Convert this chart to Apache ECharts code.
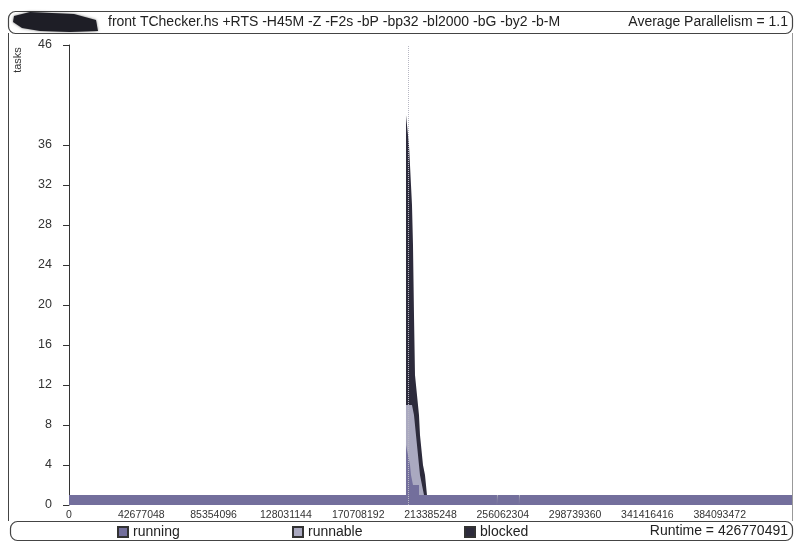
<!DOCTYPE html>
<html>
<head>
<meta charset="utf-8">
<title>TChecker activity profile</title>
<script src="https://cdn.jsdelivr.net/npm/echarts@6/dist/echarts.min.js"></script>
<style>
  html, body { margin: 0; padding: 0; background: #ffffff; }
  #chart { width: 795px; height: 543px; }
</style>
</head>
<body>
<div id="chart"></div>
<script>
// Activity profile: task counts per state, each sample holds until the next one
const sampleTimes = [
  0,
  198920000, 199510000, 200100000, 200690000, 201280000, 201870000,
  202460000, 203050000, 203640000, 204230000, 204820000, 205410000,
  206000000, 206590000, 207180000, 207770000, 208360000, 208950000,
  209540000, 210130000, 210720000, 211310000,
  252600000, 253100000, 265600000, 266100000,
  426770491
];
const runningTasks = [
  1,
  6, 6, 5, 5, 4, 3,
  3, 2, 2, 2, 2, 2,
  2, 1, 1, 1, 1, 1,
  1, 1, 1, 1,
  0, 1, 0, 1,
  1
];
const runnableTasks = [
  0,
  4, 4, 5, 5, 6, 7,
  7, 8, 7, 6, 5, 4,
  3, 3, 2, 2, 1, 1,
  0, 0, 0, 0,
  0, 0, 0, 0,
  0
];
const blockedTasks = [
  0,
  29, 28, 27, 26, 24, 22,
  20, 16, 10, 5, 5, 5,
  5, 5, 4, 3, 3, 2,
  3, 2, 1, 0,
  0, 0, 0, 0,
  0
];
const peakMarkTime = 200100000;

const runtime = 426770491;
const xTickValues = [0, 42677048, 85354096, 128031144, 170708192, 213385248,
  256062304, 298739360, 341416416, 384093472];
const yTickValues = [0, 4, 8, 12, 16, 20, 24, 28, 32, 36, 46];

const titleText = 'front TChecker.hs +RTS -H45M -Z -F2s -bP -bp32 -bl2000 -bG -by2 -b-M';
const avgText = 'Average Parallelism = 1.1';
const runtimeText = 'Runtime = ' + runtime;

const stateColors = { running: '#736f9c', runnable: '#aaa9c0', blocked: '#2d2b3c' };
const FONT = '"Liberation Sans", Arial, Helvetica, sans-serif';

// Cumulative heights: blocked sits on runnable, runnable sits on running.
const runTop = runningTasks.slice();
const runnableTop = runningTasks.map((v, i) => v + runnableTasks[i]);
const blockedTop = runnableTop.map((v, i) => v + blockedTasks[i]);

function pairs(values) {
  return sampleTimes.map((t, i) => [t, values[i]]);
}

// Each state is painted as a step area from zero up to its cumulative top;
// the lower states are drawn over it so only its own band remains visible.
function stateSeries(name, tops, z, extra) {
  return Object.assign({
    name: name,
    type: 'line',
    step: 'end',
    symbol: 'none',
    z: z,
    data: pairs(tops),
    lineStyle: { width: 0 },
    areaStyle: { color: stateColors[name], opacity: 1, origin: 'start' },
    itemStyle: { color: stateColors[name], borderColor: '#333', borderWidth: 1 },
    emphasis: { disabled: true }
  }, extra || {});
}

const legendCommon = {
  top: 525,
  padding: 0,
  icon: 'rect',
  itemWidth: 10,
  itemHeight: 10,
  selectedMode: false,
  textStyle: { fontFamily: FONT, fontSize: 14, color: '#222' }
};

const chart = echarts.init(document.getElementById('chart'), null, { renderer: 'canvas' });

chart.setOption({
  animation: false,
  backgroundColor: '#ffffff',
  grid: { left: 69, right: 3, top: 45, bottom: 38, containLabel: false },
  xAxis: {
    type: 'value',
    min: 0,
    max: runtime,
    axisLine: { show: false },
    axisTick: { show: false },
    splitLine: { show: false },
    axisLabel: {
      customValues: xTickValues,
      margin: 5,
      fontFamily: FONT,
      fontSize: 10.5,
      color: '#333',
      formatter: v => String(v)
    }
  },
  yAxis: {
    type: 'value',
    min: 0,
    max: 46,
    axisLine: { show: true, lineStyle: { color: '#333', width: 1 } },
    axisTick: { show: true, customValues: yTickValues, length: 6, lineStyle: { color: '#333' } },
    splitLine: { show: false },
    axisLabel: {
      customValues: yTickValues,
      margin: 17,
      fontFamily: FONT,
      fontSize: 12.5,
      color: '#333'
    }
  },
  legend: [
    Object.assign({ data: ['running'], left: 117 }, legendCommon),
    Object.assign({ data: ['runnable'], left: 292 }, legendCommon),
    Object.assign({ data: ['blocked'], left: 464 }, legendCommon)
  ],
  series: [
    stateSeries('blocked', blockedTop, 2, {
      markLine: {
        silent: true,
        symbol: 'none',
        label: { show: false },
        lineStyle: { color: '#b8b8c4', type: 'dotted', width: 1 },
        data: [{ xAxis: peakMarkTime }]
      }
    }),
    stateSeries('runnable', runnableTop, 3),
    stateSeries('running', runTop, 4)
  ],
  graphic: [
    // outer frame sides
    { type: 'line', shape: { x1: 8.5, y1: 33, x2: 8.5, y2: 521 }, style: { stroke: '#444', lineWidth: 1 }, silent: true },
    { type: 'line', shape: { x1: 792.5, y1: 33, x2: 792.5, y2: 521 }, style: { stroke: '#999', lineWidth: 1 }, silent: true },
    // title bar
    { type: 'rect', shape: { x: 8.5, y: 11.5, width: 784, height: 22, r: 7 }, style: { fill: 'none', stroke: '#444', lineWidth: 1.2 }, silent: true },
    { type: 'polygon', shape: { points: [[14, 16], [30, 12], [52, 13], [74, 14], [96, 20], [98, 31], [70, 32], [40, 31], [22, 28], [13, 22]] },
      style: { fill: '#1e1e26', shadowBlur: 3, shadowColor: 'rgba(0,0,0,0.5)' }, silent: true },
    { type: 'text', x: 108, y: 22, style: { text: titleText, font: '14px ' + FONT, fill: '#222', verticalAlign: 'middle', align: 'left' }, silent: true },
    { type: 'text', x: 788, y: 22, style: { text: avgText, font: '14px ' + FONT, fill: '#222', verticalAlign: 'middle', align: 'right' }, silent: true },
    // y axis name
    { type: 'text', x: 18, y: 60, rotation: Math.PI / 2, style: { text: 'tasks', font: '11px ' + FONT, fill: '#333', align: 'center', verticalAlign: 'middle' }, silent: true },
    // legend bar
    { type: 'rect', shape: { x: 10.5, y: 521.5, width: 782, height: 19, r: 7 }, style: { fill: 'none', stroke: '#444', lineWidth: 1.2 }, silent: true },
    { type: 'text', x: 788, y: 531, style: { text: runtimeText, font: '14px ' + FONT, fill: '#222', verticalAlign: 'middle', align: 'right' }, silent: true }
  ]
});
</script>
</body>
</html>
